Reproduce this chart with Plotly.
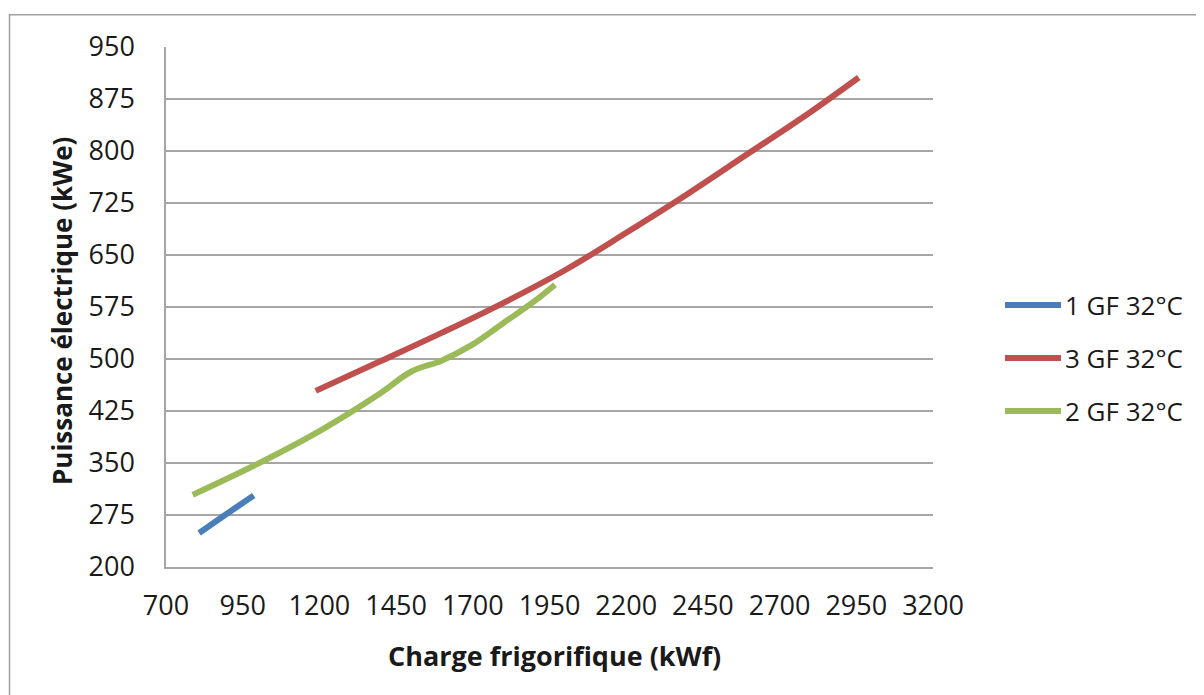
import plotly.graph_objects as go

# ---- data ----
series_names = ["1 GF 32°C", "3 GF 32°C", "2 GF 32°C"]
series_colors = ["#4A7EBB", "#C0504D", "#9BBB59"]

gf1_x = [808, 896, 986]
gf1_y = [249, 276, 303]

gf3_x = [1188, 1400, 1600, 1800, 2000, 2200, 2400, 2600, 2800, 2958]
gf3_y = [454, 497, 538, 581, 628, 682, 738, 797, 856, 906]

gf2_x = [787, 1000, 1200, 1400, 1500, 1600, 1700, 1800, 1900, 1968]
gf2_y = [304, 349, 396, 451, 482, 498, 521, 552, 583, 607]

x_ticks = [700, 950, 1200, 1450, 1700, 1950, 2200, 2450, 2700, 2950, 3200]
y_ticks = [200, 275, 350, 425, 500, 575, 650, 725, 800, 875, 950]

x_title = "Charge frigorifique (kWf)"
y_title = "Puissance électrique (kWe)"

xs = [gf1_x, gf3_x, gf2_x]
ys = [gf1_y, gf3_y, gf2_y]

FONT = "Open Sans, DejaVu Sans, sans-serif"
GRID = "#A6A6A6"
TXT = "#1A1A1A"

fig = go.Figure()
for name, color, x, y in zip(series_names, series_colors, xs, ys):
    fig.add_trace(go.Scatter(
        x=x, y=y, name=name, mode="lines",
        line=dict(color=color, width=6, shape="spline", smoothing=1.1),
        showlegend=False,
    ))

# page body has an 8px margin: work in reference pixels, then offset
OFF = 8
W, H = 1204 - OFF, 695 - OFF
L, R, T, B = 166 - OFF, 933 - OFF, 47 - OFF, 567 - OFF

def px_x(p):
    return (p - OFF - L) / (R - L)

def px_y(p):
    return (B - (p - OFF)) / (B - T)

fig.update_layout(
    width=W, height=H,
    margin=dict(l=L, r=W - R, t=T, b=H - B, pad=0),
    paper_bgcolor="white", plot_bgcolor="white",
    font=dict(family=FONT, color=TXT),
    xaxis=dict(
        range=[700, 3200], tickmode="array", tickvals=x_ticks,
        ticktext=[str(v) for v in x_ticks],
        showgrid=False, zeroline=False,
        showline=True, linecolor=GRID, linewidth=1.5,
        ticks="outside", ticklen=14, tickcolor="rgba(0,0,0,0)",
        tickfont=dict(size=27, family=FONT, color=TXT),
    ),
    yaxis=dict(
        range=[200, 950], tickmode="array", tickvals=y_ticks,
        ticktext=[str(v) for v in y_ticks],
        showgrid=True, gridcolor=GRID, gridwidth=1.5,
        zeroline=False,
        showline=True, linecolor=GRID, linewidth=1.5,
        ticks="outside", ticklen=24, tickcolor="rgba(0,0,0,0)",
        tickfont=dict(size=27, family=FONT, color=TXT),
    ),
)

annotations = [
    dict(text="<b>" + x_title + "</b>", xref="paper", yref="paper",
         x=px_x(554), y=px_y(655), xanchor="center", yanchor="middle",
         showarrow=False, font=dict(size=27, family=FONT, color=TXT)),
    dict(text="<b>" + y_title + "</b>", xref="paper", yref="paper",
         x=px_x(62), y=px_y(311), xanchor="center", yanchor="middle",
         textangle=-90, showarrow=False,
         font=dict(size=26, family=FONT, color=TXT)),
]

shapes = [
    # outer chart border (left and top visible)
    dict(type="rect", xref="paper", yref="paper",
         x0=px_x(9.5), x1=px_x(1240), y0=px_y(730), y1=px_y(14.7),
         line=dict(color="#A0A0A0", width=1.5), fillcolor="rgba(0,0,0,0)",
         layer="below"),
]

# manual legend
legend_y = [305, 358, 411]
for name, color, ly in zip(series_names, series_colors, legend_y):
    shapes.append(dict(type="line", xref="paper", yref="paper",
                       x0=px_x(1005), x1=px_x(1061), y0=px_y(ly), y1=px_y(ly),
                       line=dict(color=color, width=6)))
    annotations.append(dict(text=name, xref="paper", yref="paper",
                            x=px_x(1063), y=px_y(ly), xanchor="left",
                            yanchor="middle", showarrow=False,
                            font=dict(size=26, family=FONT, color=TXT)))

fig.update_layout(annotations=annotations, shapes=shapes)

fig.write_html("out.html")
